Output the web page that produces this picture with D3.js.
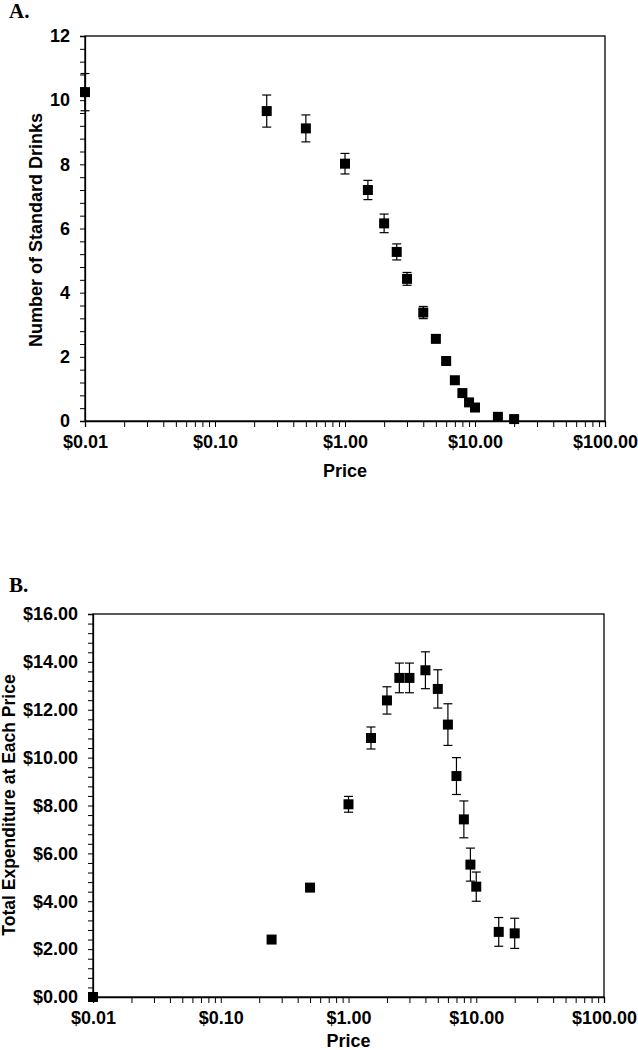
<!DOCTYPE html>
<html>
<head>
<meta charset="utf-8">
<script src="https://cdn.jsdelivr.net/npm/d3@7"></script>
<style>
  html, body { margin: 0; padding: 0; background: #fff; }
  svg { display: block; }
  text { font-family: "Liberation Sans", Arial, sans-serif; font-weight: bold; fill: #000; }
</style>
</head>
<body>
<svg id="chart" width="638" height="1050"></svg>
<script>
// ---- data ----
const prices = [0.01, 0.25, 0.5, 1, 1.5, 2, 2.5, 3, 4, 5, 6, 7, 8, 9, 10, 15, 20];
const drinks = [10.25, 9.66, 9.12, 8.02, 7.2, 6.16, 5.27, 4.43, 3.38, 2.56, 1.87, 1.27, 0.87, 0.58, 0.42, 0.13, 0.06];
const drinksSE = [0.58, 0.5, 0.42, 0.32, 0.3, 0.29, 0.25, 0.2, 0.19, 0.1, 0.08, 0.07, 0.06, 0.05, 0.05, 0.03, 0.02];
const expenditure = [0, 2.40, 4.57, 8.05, 10.82, 12.39, 13.33, 13.33, 13.65, 12.87, 11.38, 9.23, 7.42, 5.53, 4.61, 2.72, 2.66];
const expenditureSE = [0, 0.1, 0.15, 0.33, 0.46, 0.57, 0.62, 0.62, 0.77, 0.8, 0.87, 0.77, 0.77, 0.69, 0.61, 0.6, 0.63];
const priceTicks = [0.01, 0.1, 1, 10, 100];
const priceTickLabels = ["$0.01", "$0.10", "$1.00", "$10.00", "$100.00"];
const drinkTicks = [0, 2, 4, 6, 8, 10, 12];
const drinkTickLabels = ["0", "2", "4", "6", "8", "10", "12"];
const expTicks = [0, 2, 4, 6, 8, 10, 12, 14, 16];
const expTickLabels = ["$0.00", "$2.00", "$4.00", "$6.00", "$8.00", "$10.00", "$12.00", "$14.00", "$16.00"];

const svg = d3.select("#chart");

function minorLog() {
  const out = [];
  for (let e = -2; e < 2; e++) for (let m = 1; m < 10; m++) out.push(m * Math.pow(10, e));
  out.push(100);
  return out;
}

function panel(opts) {
  const { left, right, top, bottom, ymax, yTicks, yLabels, ys, ses, ytitle, ytitleX, ytitleY, ytitleSize, letter, letterY, priceY } = opts;
  const x = d3.scaleLog().domain([0.01, 100]).range([left, right]);
  const y = d3.scaleLinear().domain([0, ymax]).range([bottom, top]);
  const g = svg.append("g");

  // frame
  g.append("rect").attr("x", left).attr("y", top).attr("width", right - left).attr("height", bottom - top)
    .attr("fill", "none").attr("stroke", "#000").attr("stroke-width", 1.3);

  // x axis
  const xAxis = d3.axisBottom(x)
    .tickValues(minorLog())
    .tickSize(6).tickPadding(8)
    .tickFormat(d => {
      const i = priceTicks.findIndex(p => Math.abs(p - d) / p < 1e-6);
      return i >= 0 ? priceTickLabels[i] : "";
    });
  const gx = g.append("g").attr("transform", `translate(0,${bottom})`).call(xAxis);
  gx.selectAll("text").style("font-size", "18px");

  // y axis
  const minorY = d3.range(0, ymax + 0.001, 0.4);
  const yAxis = d3.axisLeft(y)
    .tickValues(minorY)
    .tickSize(5).tickPadding(10)
    .tickFormat(d => {
      const i = yTicks.findIndex(t => Math.abs(t - d) < 1e-6);
      return i >= 0 ? yLabels[i] : "";
    });
  const gy = g.append("g").attr("transform", `translate(${left},0)`).call(yAxis);
  gy.selectAll("text").style("font-size", "18px");

  [gx, gy].forEach(a => {
    a.select(".domain").attr("stroke", "#000").attr("stroke-width", 1.3);
    a.selectAll(".tick line").attr("stroke", "#000").attr("stroke-width", 1);
    a.selectAll(".tick text").attr("fill", "#000");
  });

  // error bars
  const cap = 4.5;
  const eb = g.append("g").attr("stroke", "#000").attr("stroke-width", 1.2);
  prices.forEach((p, i) => {
    if (!ses[i]) return;
    const cx = x(p), y1 = y(ys[i] + ses[i]), y2 = y(ys[i] - ses[i]);
    eb.append("line").attr("x1", cx).attr("x2", cx).attr("y1", y1).attr("y2", y2);
    eb.append("line").attr("x1", cx - cap).attr("x2", cx + cap).attr("y1", y1).attr("y2", y1);
    eb.append("line").attr("x1", cx - cap).attr("x2", cx + cap).attr("y1", y2).attr("y2", y2);
  });

  // markers
  const s = 10;
  g.append("g").selectAll("rect").data(prices).join("rect")
    .attr("x", (d) => x(d) - s / 2)
    .attr("y", (d, i) => y(ys[i]) - s / 2)
    .attr("width", s).attr("height", s).attr("fill", "#000");

  // titles
  g.append("text").attr("x", (left + right) / 2).attr("y", priceY)
    .attr("text-anchor", "middle").style("font-size", "18px").text("Price");
  g.append("text").attr("transform", `translate(${ytitleX},${ytitleY}) rotate(-90)`)
    .attr("text-anchor", "middle").style("font-size", ytitleSize + "px").text(ytitle);
  g.append("text").attr("x", 9).attr("y", letterY)
    .style("font-family", "'Liberation Serif', 'Times New Roman', serif")
    .style("font-size", "21px").text(letter);
}

panel({
  left: 85, right: 605, top: 36, bottom: 421, ymax: 12,
  yTicks: drinkTicks, yLabels: drinkTickLabels, ys: drinks, ses: drinksSE,
  ytitle: "Number of Standard Drinks", ytitleX: 42, ytitleY: 230, ytitleSize: 18,
  letter: "A.", letterY: 18, priceY: 477
});

panel({
  left: 93, right: 604, top: 614, bottom: 997, ymax: 16,
  yTicks: expTicks, yLabels: expTickLabels, ys: expenditure, ses: expenditureSE,
  ytitle: "Total Expenditure at Each Price", ytitleX: 15, ytitleY: 805, ytitleSize: 17.5,
  letter: "B.", letterY: 592, priceY: 1047
});
</script>
</body>
</html>
